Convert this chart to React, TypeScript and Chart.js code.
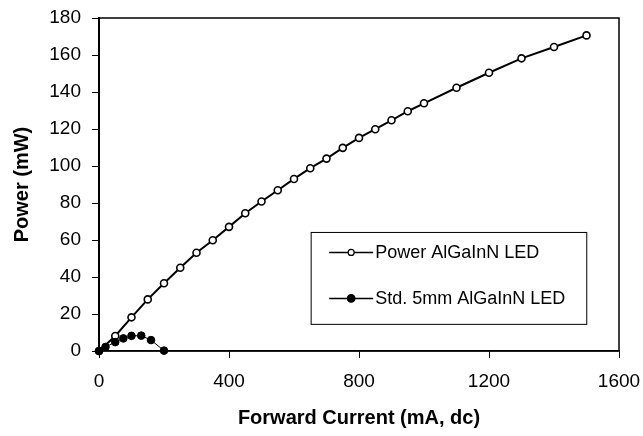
import React, { useEffect, useRef } from "react";
import { Chart, registerables } from "chart.js";

Chart.register(...registerables);

const powerCurrent = [0, 50, 100, 150, 200, 250, 300, 350, 400, 450, 500, 550, 600, 650, 700, 750, 800, 850, 900, 950, 1000, 1100, 1200, 1300, 1400, 1500];
const powerOutput = [0, 8.1, 18.2, 27.9, 36.6, 45, 53.1, 59.9, 67.1, 74.5, 80.8, 86.9, 93, 98.8, 104, 109.8, 115.2, 119.9, 124.7, 129.6, 133.9, 142.3, 150.4, 158.2, 164.3, 170.6];

const stdCurrent = [0, 20, 50, 75, 100, 130, 160, 200];
const stdOutput = [0, 2.2, 4.8, 6.8, 8.2, 8.3, 5.9, 0.2];

const seriesNames = ["Power AlGaInN LED", "Std. 5mm AlGaInN LED"];
const xTitle = "Forward Current (mA, dc)";
const yTitle = "Power (mW)";

const FONT = "'Liberation Sans', Arial, Helvetica, sans-serif";

const frameAndLegend = {
  id: "frameAndLegend",
  afterDraw(chart: any) {
    const ctx = chart.ctx;
    const { left, right, top, bottom } = chart.chartArea;
    ctx.save();
    ctx.strokeStyle = "#000";
    ctx.lineWidth = 1.5;
    ctx.strokeRect(left, top, right - left, bottom - top);

    const w = right - left;
    const h = bottom - top;
    const bx = left + w * 0.408;
    const by = top + h * 0.644;
    const bw = w * 0.53;
    const bh = h * 0.276;
    ctx.fillStyle = "#fff";
    ctx.fillRect(bx, by, bw, bh);
    ctx.lineWidth = 1;
    ctx.strokeRect(bx, by, bw, bh);

    const rows = [
      { name: seriesNames[0], filled: false, lw: 1.5, r: 3 },
      { name: seriesNames[1], filled: true, lw: 1.5, r: 3.8 },
    ];
    const lx0 = bx + 18;
    const lx1 = lx0 + 44;
    rows.forEach((row, i) => {
      const y = by + 20 + i * 46;
      ctx.strokeStyle = "#000";
      ctx.lineWidth = row.lw;
      ctx.beginPath();
      ctx.moveTo(lx0, y);
      ctx.lineTo(lx1, y);
      ctx.stroke();
      ctx.beginPath();
      ctx.arc((lx0 + lx1) / 2, y, row.r, 0, Math.PI * 2);
      ctx.fillStyle = row.filled ? "#000" : "#fff";
      ctx.fill();
      ctx.lineWidth = 1.2;
      ctx.stroke();
      ctx.fillStyle = "#000";
      ctx.font = `18px ${FONT}`;
      ctx.textAlign = "left";
      ctx.textBaseline = "middle";
      ctx.fillText(row.name, lx1 + 2, y + 1);
    });
    ctx.restore();
  },
};

export default function App() {
  const ref = useRef<HTMLCanvasElement | null>(null);

  useEffect(() => {
    document.body.style.margin = "0";
    const canvas = ref.current;
    if (!canvas) return;
    const chart = new Chart(canvas, {
      type: "scatter",
      data: {
        datasets: [
          {
            label: seriesNames[1],
            data: stdCurrent.map((x, i) => ({ x, y: stdOutput[i] })),
            showLine: true,
            borderColor: "#000",
            borderWidth: 1,
            backgroundColor: "#000",
            pointBackgroundColor: "#000",
            pointBorderColor: "#000",
            pointRadius: 3.8,
            pointBorderWidth: 1,
            order: 0,
            clip: false,
          },
          {
            label: seriesNames[0],
            data: powerCurrent.map((x, i) => ({ x, y: powerOutput[i] })),
            showLine: true,
            borderColor: "#000",
            borderWidth: 2,
            backgroundColor: "#fff",
            pointBackgroundColor: "#fff",
            pointBorderColor: "#000",
            pointRadius: 3.5,
            pointBorderWidth: 1.6,
            order: 1,
            clip: false,
          },
        ],
      },
      options: {
        responsive: false,
        animation: false,
        devicePixelRatio: 1,
        layout: { padding: { top: 18, right: 24, left: 0, bottom: 0 } },
        plugins: {
          legend: { display: false },
          tooltip: { enabled: false },
        },
        scales: {
          x: {
            type: "linear",
            min: 0,
            max: 1600,
            afterFit: (s: any) => {
              s.height = 85;
              s.paddingRight = 0;
              s.paddingLeft = 0;
            },
            ticks: {
              stepSize: 400,
              color: "#000",
              font: { family: FONT, size: 19 },
              padding: 12,
              maxRotation: 0,
              callback: (v: any) => String(v),
            },
            grid: {
              display: true,
              drawOnChartArea: false,
              drawTicks: true,
              tickLength: 7,
              color: "#000",
              lineWidth: 1,
            },
            border: { display: true, color: "#000", width: 1.5 },
            title: {
              display: true,
              text: xTitle,
              color: "#000",
              font: { family: FONT, size: 20, weight: "bold" },
              padding: { top: 0, bottom: 6 },
            },
          },
          y: {
            type: "linear",
            min: 0,
            max: 180,
            afterFit: (s: any) => {
              s.width = 99;
              s.paddingTop = 0;
              s.paddingBottom = 0;
            },
            ticks: {
              stepSize: 20,
              color: "#000",
              font: { family: FONT, size: 19 },
              padding: 11,
            },
            grid: {
              display: true,
              drawOnChartArea: false,
              drawTicks: true,
              tickLength: 7,
              color: "#000",
              lineWidth: 1,
            },
            border: { display: true, color: "#000", width: 2 },
            title: {
              display: true,
              text: yTitle,
              color: "#000",
              font: { family: FONT, size: 20, weight: "bold" },
              padding: { top: 10, bottom: 0 },
            },
          },
        },
      },
      plugins: [frameAndLegend],
    });
    return () => chart.destroy();
  }, []);

  return (
    <div style={{ width: 643, height: 436, background: "#fff" }}>
      <canvas ref={ref} width={643} height={436} style={{ display: "block" }} />
    </div>
  );
}
